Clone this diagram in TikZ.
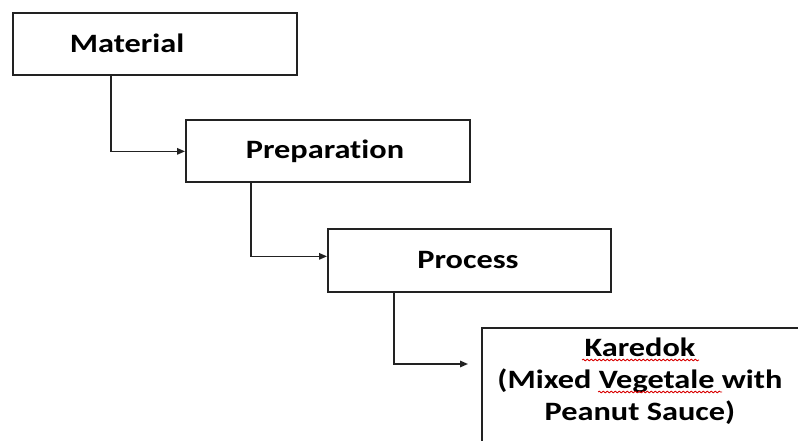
\documentclass[tikz,border=0pt]{standalone}
\usepackage{fontspec}
\newfontfamily\boxfont[FakeStretch=1.22, Ligatures={NoCommon}]{Carlito}
\usetikzlibrary{arrows.meta,decorations.pathmorphing,calc}
\definecolor{ink}{HTML}{222222}
\tikzset{
  box/.style={draw=ink, line width=1.7pt, fill=white, minimum width=284pt, minimum height=62pt, anchor=north west, inner sep=0pt},
  txt/.style={font=\boxfont\bfseries\fontsize{26.5}{32}\selectfont, text=black, inner sep=0pt, align=center},
  conn/.style={draw=ink, line width=1.5pt, -{Triangle[length=8pt,width=6.5pt]}},
  squig/.style={draw=red!85!black, line width=0.8pt, decorate, decoration={snake, amplitude=0.9pt, segment length=4pt}}
}
\begin{document}
\begin{tikzpicture}
\useasboundingbox (0,0) rectangle (798pt,-441pt);
\fill[white] (0,0) rectangle (798pt,-441pt);
\clip (0,0) rectangle (798pt,-441pt);

\node[box] (mat) at (12pt,-12pt) {};
\node[txt] (mattxt) at (127pt,-43pt) {Material};

\node[box] (prep) at (185pt,-119pt) {};
\node[txt] (preptxt) at (325pt,-151pt) {Preparation};

\node[box, minimum width=283pt, minimum height=63pt] (proc) at (327pt,-228pt) {};
\node[txt] (proctxt) at (468pt,-260pt) {Process};

\node[box, minimum width=340pt, minimum height=150pt] (kare) at (481pt,-327pt) {};
\node[txt] (ktxt) at (640pt,-381pt) {Karedok\\(Mixed Vegetale with\\Peanut Sauce)};

\coordinate (k1) at ($(prep.west)+(0,-0.5pt)$);
\coordinate (k2) at ($(proc.west)+(0,4pt)$);
\coordinate (k3) at (468pt,-364pt);

\draw[conn] ($(mat.south west)+(99pt,0)$) |- (k1);
\draw[conn] ($(prep.south west)+(66pt,0)$) |- (k2);
\draw[conn] ($(proc.south west)+(67pt,0)$) |- (k3);

\draw[squig] ($(ktxt.center)+(-58pt,21pt)$) -- ($(ktxt.center)+(59pt,21pt)$);
\draw[squig] ($(ktxt.center)+(-42pt,-11pt)$) -- ($(ktxt.center)+(82pt,-11pt)$);
\end{tikzpicture}
\end{document}
